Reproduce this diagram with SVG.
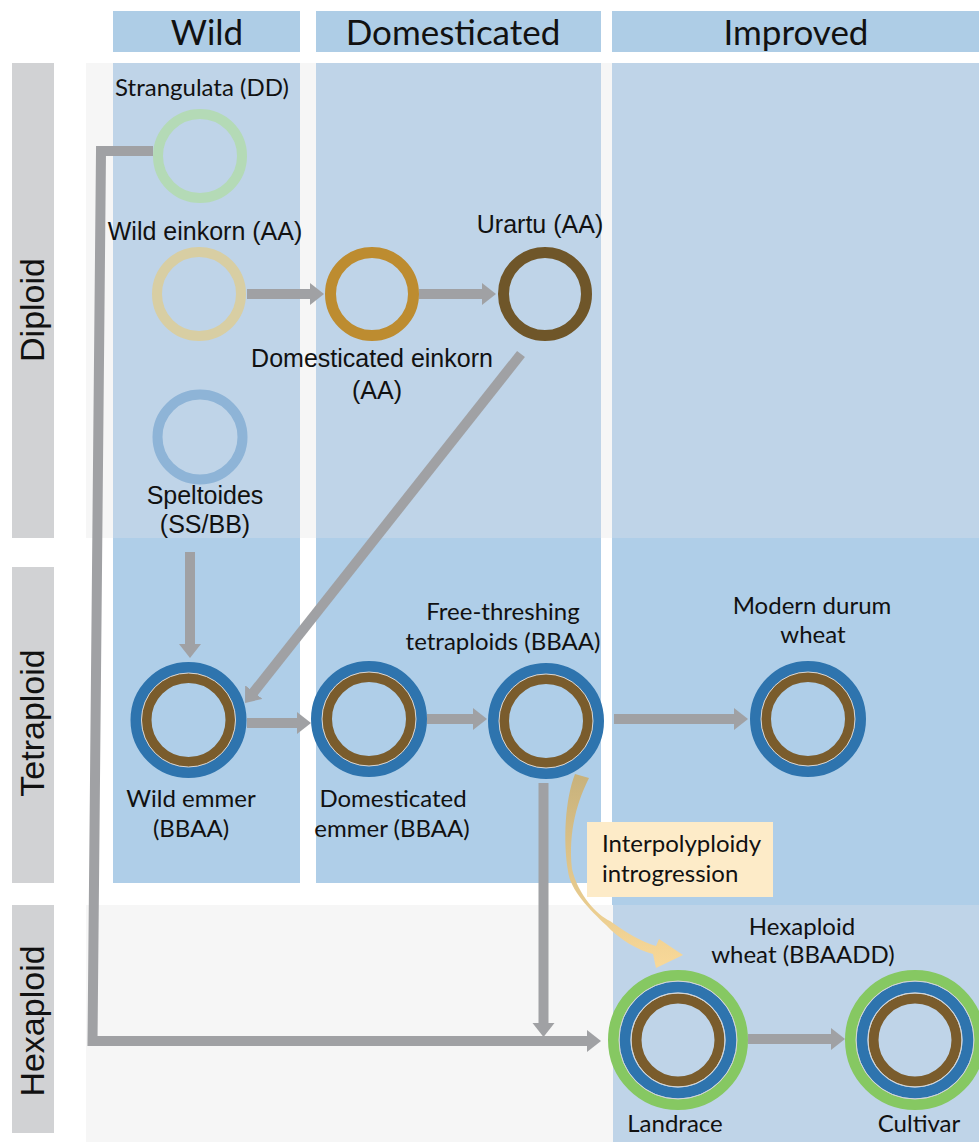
<svg xmlns="http://www.w3.org/2000/svg" width="979" height="1142" viewBox="0 0 979 1142">
<style>
.hdr{fill:#aecde6}
.p1{fill:#bfd4e8}
.p2{fill:#afcee8}
.rowlab{fill:#d1d2d4}
.cal{font-family:Lato,"Open Sans","Liberation Sans",sans-serif;fill:#111}
.ari{font-family:"Liberation Sans",Arial,sans-serif;fill:#111}
.t24{font-size:24px}
.t25{font-size:25px}
.th{font-size:35px}
.tr{font-size:34px}
.arr{fill:none;stroke:#a0a1a4;stroke-width:10}
.blue{fill:none;stroke:#2e74ae;stroke-width:11}
.brown{fill:none;stroke:#7a5c2c;stroke-width:10}
.green{fill:none;stroke:#86c862;stroke-width:11}
.sep{fill:none;stroke:#d6d6d6;stroke-width:1}
</style>
<defs>
<marker id="ah" markerUnits="userSpaceOnUse" markerWidth="16" markerHeight="24" refX="2" refY="11" orient="auto" viewBox="0 0 16 24">
<path d="M0,0 L14,11 L0,22 Z" fill="#a0a1a4"/>
</marker>
<linearGradient id="curveg" gradientUnits="userSpaceOnUse" x1="0" y1="775" x2="0" y2="965">
<stop offset="0" stop-color="#c8b27c"/>
<stop offset="1" stop-color="#f8d898"/>
</linearGradient>
</defs>

<rect x="0" y="0" width="979" height="1142" fill="#ffffff"/>
<g id="background">
<rect x="86" y="63" width="893" height="475" fill="#f6f6f6"/>
<rect x="86" y="905" width="893" height="237" fill="#f6f6f6"/>
<rect class="p1" x="113" y="63" width="187" height="475"/>
<rect class="p1" x="316" y="63" width="285" height="475"/>
<rect class="p1" x="612" y="63" width="367" height="475"/>
<rect class="p2" x="113" y="538" width="187" height="345"/>
<rect class="p2" x="316" y="538" width="285" height="345"/>
<rect class="p2" x="612" y="538" width="367" height="367"/>
<rect class="p1" x="613" y="905" width="366" height="237"/>
</g>

<g id="headers">
<rect class="hdr" x="113" y="11" width="187" height="41"/>
<rect class="hdr" x="316" y="11" width="285" height="41"/>
<rect class="hdr" x="612" y="11" width="367" height="41"/>
<text class="cal th" x="207" y="45" text-anchor="middle">Wild</text>
<text class="cal th" x="453" y="45" text-anchor="middle">Domesticated</text>
<text class="cal th" x="796" y="45" text-anchor="middle">Improved</text>
</g>

<g id="row-labels">
<rect class="rowlab" x="12" y="63" width="42" height="475"/>
<rect class="rowlab" x="12" y="567" width="42" height="316"/>
<rect class="rowlab" x="12" y="905" width="42" height="228"/>
<text class="ari tr" transform="translate(44,310) rotate(-90)" text-anchor="middle">Diploid</text>
<text class="ari tr" transform="translate(44,723) rotate(-90)" text-anchor="middle">Tetraploid</text>
<text class="ari tr" transform="translate(44,1021) rotate(-90)" text-anchor="middle">Hexaploid</text>
</g>

<g id="connectors">
<path class="arr" d="M153,151 H101 L92.5,1041 H589" stroke-width="11" marker-end="url(#ah)"/>
<path class="arr" d="M247,294 H312" marker-end="url(#ah)"/>
<path class="arr" d="M419,294 H484" marker-end="url(#ah)"/>
<path class="arr" d="M521,354 L252.5,693.6" marker-end="url(#ah)"/>
<path class="arr" d="M190,552 V646" marker-end="url(#ah)"/>
<path class="arr" d="M247,723 H299" marker-end="url(#ah)"/>
<path class="arr" d="M427,719 H475" marker-end="url(#ah)"/>
<path class="arr" d="M614,719 H736" marker-end="url(#ah)"/>
<path class="arr" d="M543.5,783 V1025" marker-end="url(#ah)"/>
<path class="arr" d="M748,1039 H833" marker-end="url(#ah)"/>
<path id="introgression-arrow" fill="url(#curveg)" d="M589,778 C578,800 568,830 572,869 C578,895 597,915 610,921 C625,932 642,942 656,946 L659,939 L683,955 L656,968 L653,954 C638,950 620,940 606,925 C590,910 570,890 568,871 C563,840 565,800 575,774 Z"/>
</g>

<g id="strangulata">
<circle cx="200" cy="156" r="42" fill="none" stroke="#b4dab6" stroke-width="10"/>
<text class="cal t24" x="202" y="96" text-anchor="middle">Strangulata (DD)</text>
</g>
<g id="wild-einkorn">
<circle cx="199" cy="294" r="42" fill="none" stroke="#d8cea3" stroke-width="10"/>
<text class="ari t25" x="205" y="240" text-anchor="middle">Wild einkorn (AA)</text>
</g>
<g id="domesticated-einkorn">
<circle cx="372" cy="294" r="41.5" fill="none" stroke="#bd8c30" stroke-width="11"/>
<text class="ari t25" x="372" y="367" text-anchor="middle">Domesticated einkorn</text>
<text class="ari t25" x="377" y="399" text-anchor="middle">(AA)</text>
</g>
<g id="urartu">
<circle cx="545" cy="294" r="41.5" fill="none" stroke="#6f5629" stroke-width="11"/>
<text class="ari t25" x="540" y="233" text-anchor="middle">Urartu (AA)</text>
</g>
<g id="speltoides">
<circle cx="200" cy="437" r="42.5" fill="none" stroke="#8eb4d7" stroke-width="10"/>
<text class="ari t25" x="205" y="504" text-anchor="middle">Speltoides</text>
<text class="ari t25" x="205" y="533" text-anchor="middle">(SS/BB)</text>
</g>

<g id="wild-emmer">
<circle class="blue" cx="188.5" cy="720" r="52.5"/>
<circle class="brown" cx="188.5" cy="720" r="42"/>
<circle class="sep" cx="188.5" cy="720" r="47"/>
<text class="cal t24" x="191" y="807" text-anchor="middle">Wild emmer</text>
<text class="cal t24" x="191" y="837" text-anchor="middle">(BBAA)</text>
</g>
<g id="domesticated-emmer">
<circle class="blue" cx="369" cy="719" r="52.5"/>
<circle class="brown" cx="369" cy="719" r="42"/>
<circle class="sep" cx="369" cy="719" r="47"/>
<text class="cal t24" x="393" y="807" text-anchor="middle">Domesticated</text>
<text class="cal t24" x="392" y="837" text-anchor="middle">emmer (BBAA)</text>
</g>
<g id="free-threshing">
<circle class="blue" cx="546" cy="721" r="52.5"/>
<circle class="brown" cx="546" cy="721" r="42"/>
<circle class="sep" cx="546" cy="721" r="47"/>
<text class="cal t24" x="503" y="620" text-anchor="middle">Free-threshing</text>
<text class="cal t24" x="503" y="650" text-anchor="middle">tetraploids (BBAA)</text>
</g>
<g id="modern-durum">
<circle class="blue" cx="808" cy="719" r="52.5"/>
<circle class="brown" cx="808" cy="719" r="42"/>
<circle class="sep" cx="808" cy="719" r="47"/>
<text class="cal t24" x="812" y="614" text-anchor="middle">Modern durum</text>
<text class="cal t24" x="813" y="643" text-anchor="middle">wheat</text>
</g>

<g id="interpolyploidy">
<rect x="587" y="822" width="186" height="75" fill="#fdebc8"/>
<text class="cal t24" x="602" y="852">Interpolyploidy</text>
<text class="cal t24" x="602" y="882">introgression</text>
</g>

<g id="hexaploid-wheat">
<text class="cal t24" x="802" y="935" text-anchor="middle">Hexaploid</text>
<text class="cal t24" x="803" y="963" text-anchor="middle">wheat (BBAADD)</text>
</g>
<g id="landrace">
<circle class="green" cx="678" cy="1040" r="64.5"/>
<circle class="blue" cx="678" cy="1040" r="53" stroke-width="12"/>
<circle class="brown" cx="678" cy="1040" r="41.5" stroke-width="11"/>
<circle class="sep" cx="678" cy="1040" r="59"/>
<circle class="sep" cx="678" cy="1040" r="47"/>
<text class="cal t24" x="675" y="1132" text-anchor="middle">Landrace</text>
</g>
<g id="cultivar">
<circle class="green" cx="915" cy="1040" r="64.5"/>
<circle class="blue" cx="915" cy="1040" r="53" stroke-width="12"/>
<circle class="brown" cx="915" cy="1040" r="41.5" stroke-width="11"/>
<circle class="sep" cx="915" cy="1040" r="59"/>
<circle class="sep" cx="915" cy="1040" r="47"/>
<text class="cal t24" x="919" y="1132" text-anchor="middle">Cultivar</text>
</g>
</svg>
